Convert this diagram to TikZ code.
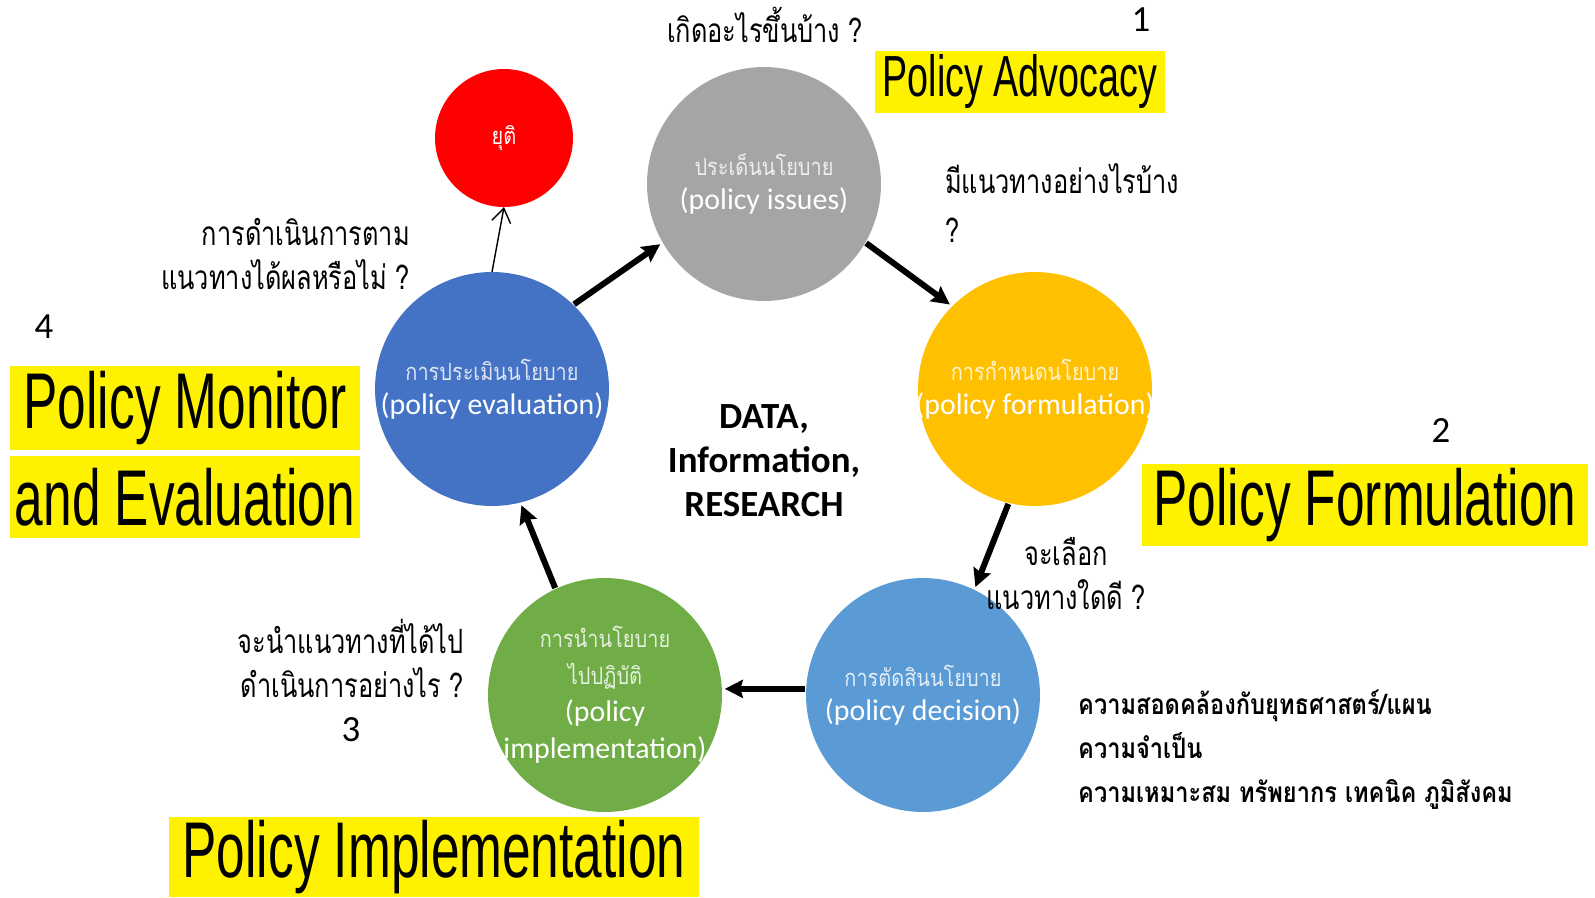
\documentclass[tikz,border=0pt]{standalone}
\usepackage{fontspec}
\setmainfont{Carlito}
\newfontfamily\thaifont[Script=Thai, FakeStretch=0.84]{Loma}
\newfontfamily\thaiask[Script=Thai, FakeStretch=0.76]{Loma}
\newfontfamily\agencyfont[FakeStretch=0.65]{Liberation Sans}
\usetikzlibrary{arrows.meta}
\definecolor{issuegray}{HTML}{A5A5A5}
\definecolor{stopred}{HTML}{FF0000}
\definecolor{evalblue}{HTML}{4472C4}
\definecolor{formgold}{HTML}{FFC000}
\definecolor{decisblue}{HTML}{5B9BD5}
\definecolor{implgreen}{HTML}{70AD47}
\def\circsize{4.68cm}
\def\stopsize{2.76cm}
\def\thaiin{\thaifont\fontsize{13.5}{16}\selectfont}
% zero-width line, so that the text does not blow the circle up
\def\inline#1{\makebox[0pt]{#1}}

\begin{document}
\begin{tikzpicture}[x=0.02cm, y=0.02cm,
  stage/.style={circle, minimum size=\circsize, inner sep=0pt, outer sep=0pt, text=white, align=center,
    font=\fontsize{17}{19.5}\selectfont},
  flow/.style={line width=3.4pt, -{Stealth[length=0.36cm,width=0.36cm,inset=0.05cm]},
    shorten <=0.02cm, shorten >=0.06cm},
  ask/.style={font=\thaiask\fontsize{19}{25}\selectfont},
  banner/.style={fill=yellow, inner sep=0pt, font=\agencyfont\fontsize{45}{45}\selectfont},
  num/.style={font=\fontsize{21}{21}\selectfont}]
  \useasboundingbox (0,0) rectangle (1595,897);
  % the five stages of the cycle
  \node[stage, fill=issuegray] (issue) at (764,713)
    {\inline{\thaiin\color{white!82!issuegray}ประเด็นนโยบาย}\\\inline{(policy issues)}};
  \node[stage, fill=formgold] (form) at (1035,508)
    {\inline{\thaiin\color{white!82!formgold}การกำหนดนโยบาย}\\\inline{(policy formulation)}};
  \node[stage, fill=decisblue] (decis) at (923,202)
    {\inline{\thaiin\color{white!82!decisblue}การตัดสินนโยบาย}\\\inline{(policy decision)}};
  \node[stage, fill=implgreen, font=\fontsize{17}{21}\selectfont] (impl) at (605,202)
    {\inline{\thaiin\color{white!82!implgreen}การนำนโยบาย}\\\inline{\thaiin\color{white!82!implgreen}ไปปฏิบัติ}\\
     \inline{(policy}\\\inline{implementation)}};
  \node[stage, fill=evalblue] (eval) at (492,508)
    {\inline{\thaiin\color{white!82!evalblue}การประเมินนโยบาย}\\\inline{(policy evaluation)}};
  \node[circle, minimum size=\stopsize, inner sep=0pt, outer sep=0pt, fill=stopred, text=white,
    font=\thaiin] (stop) at (504,759) {ยุติ};
  % centre
  \node[align=center, font=\bfseries\fontsize{21}{25}\selectfont] (data) at (764,436)
    {DATA,\\Information,\\RESEARCH};
  % arrows round the cycle
  \foreach \a/\b in {eval.46/issue.210, issue.-30/form.135, form.257/decis.64,
    decis.177/impl.3, impl.115/eval.284}
    \draw[flow] (\a) -- (\b);
  \draw[line width=0.8pt, -{Straight Barb[length=0.28cm,width=0.38cm]}] (eval.north) -- (stop.south);
  % questions
  \node[ask] (askissue) at (765,872) {เกิดอะไรขึ้นบ้าง ?};
  \node[ask, align=left, anchor=west, font=\thaiask\fontsize{19}{28}\selectfont] (askform) at (939,694)
    {มีแนวทางอย่างไรบ้าง\\?};
  \node[ask, align=center] (askdecis) at (1066,323) {จะเลือก\\แนวทางใดดี ?};
  \node[ask, align=right, anchor=east] (askimpl) at (470,239)
    {จะนำแนวทางที่ได้ไป\\ดำเนินการอย่างไร ?};
  \node[ask, align=right, anchor=east] (askeval) at (416,643)
    {การดำเนินการตาม\\แนวทางได้ผลหรือไม่ ?};
  \node[align=left, anchor=west, font=\thaifont\bfseries\fontsize{16}{25}\selectfont] (criteria) at (1072,147)
    {ความสอดคล้องกับยุทธศาสตร์/แผน\\ความจำเป็น\\ความเหมาะสม ทรัพยากร เทคนิค ภูมิสังคม};
  % numbers
  \node[num] (one) at (1141,877) {1};
  \node[num] (two) at (1441,466) {2};
  \node[num] (three) at (351,167) {3};
  \node[num] (four) at (44,570) {4};
  % phase banners
  \node[banner, minimum width=5.8cm, minimum height=1.24cm,
    font=\agencyfont\fontsize{33}{33}\selectfont] (advocacy) at (1020,815) {Policy Advocacy};
  \node[banner, minimum width=8.92cm, minimum height=1.66cm] (formulation) at (1365,392) {Policy Formulation};
  \node[banner, minimum width=10.6cm, minimum height=1.62cm] (implementation) at (434,40) {Policy Implementation};
  \node[banner, minimum width=7cm, minimum height=1.68cm] (monitor) at (185,489) {Policy Monitor};
  \node[banner, minimum width=7cm, minimum height=1.64cm] (evaluation) at (185,400) {and Evaluation};
\end{tikzpicture}
\end{document}
